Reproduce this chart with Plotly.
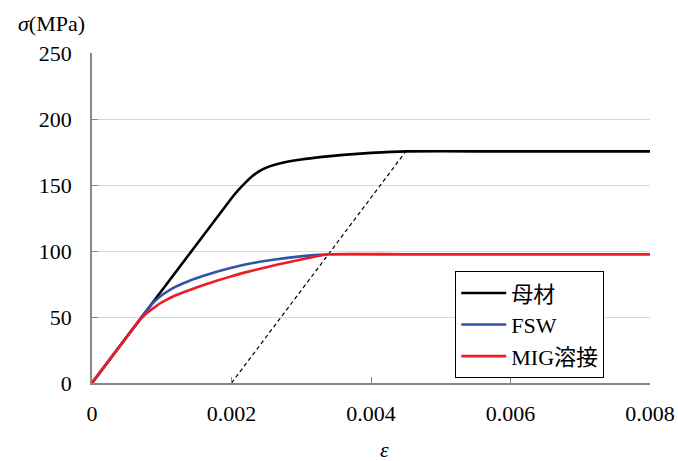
import plotly.graph_objects as go

# Stress-strain curves (strain [-], stress [MPa])
base_eps = [0, 0.0020, 0.0021, 0.0022, 0.0023, 0.0024, 0.0025, 0.0027, 0.0030,
            0.0033, 0.0036, 0.0040, 0.0045, 0.0055, 0.0080]
base_sig = [0, 140, 146.3, 151.8, 156.8, 160.5, 163.2, 166.5, 169.3,
            171.3, 172.8, 174.3, 175.5, 175.5, 175.5]

fsw_eps = [0, 0.0008, 0.0009, 0.0010, 0.0011, 0.0012, 0.0014, 0.0016, 0.0018,
           0.0020, 0.0022, 0.0025, 0.0028, 0.0031, 0.0034, 0.0045, 0.0080]
fsw_sig = [0, 56, 62, 66.5, 70, 73, 77.5, 81.2, 84.5,
           87.3, 89.8, 92.6, 94.8, 96.5, 97.5, 97.5, 97.5]

mig_eps = [0, 0.0006, 0.0007, 0.0008, 0.0009, 0.0010, 0.0012, 0.0014, 0.0016,
           0.0018, 0.0020, 0.0022, 0.0025, 0.0028, 0.0031, 0.0034, 0.0045, 0.0080]
mig_sig = [0, 42, 48.5, 53.5, 57.5, 61, 66.5, 70.5, 74.3,
           77.7, 80.8, 83.8, 87.7, 91.3, 94.7, 97.5, 97.5, 97.5]

# 0.2 % offset line
offset_eps = [0.002, 0.0045]
offset_sig = [0, 175.5]

series_names = ["母材", "FSW", "MIG溶接"]
series_colors = ["#000000", "#3352a8", "#ee1c25"]

x_ticks = [0, 0.002, 0.004, 0.006, 0.008]
x_ticktext = ["0", "0.002", "0.004", "0.006", "0.008"]
y_ticks = [0, 50, 100, 150, 200, 250]

FONT = "'Liberation Serif', 'Noto Sans CJK JP', serif"

fig = go.Figure()

fig.add_trace(go.Scatter(x=offset_eps, y=offset_sig, mode="lines",
                         line=dict(color="black", width=1.2, dash="4px,3px"),
                         showlegend=False, hoverinfo="skip"))

for i, (xs, ys) in enumerate([(base_eps, base_sig), (fsw_eps, fsw_sig), (mig_eps, mig_sig)]):
    fig.add_trace(go.Scatter(x=xs, y=ys, mode="lines", name=series_names[i],
                             legendgroup=series_names[i],
                             line=dict(color=series_colors[i], width=2.6,
                                       shape="spline", smoothing=0.5)))

axis_gray = "#878787"

fig.update_layout(
    width=678, height=461,
    margin=dict(l=92, r=28, t=53, b=78, autoexpand=False),
    paper_bgcolor="white", plot_bgcolor="white",
    font=dict(family=FONT, size=22, color="black"),
    showlegend=True,
    legend=dict(x=0.651, y=0.339, xanchor="left", yanchor="top",
                bgcolor="white", bordercolor="black", borderwidth=1,
                font=dict(family=FONT, size=22),
                traceorder="grouped", tracegroupgap=0,
                itemwidth=45),
    xaxis=dict(range=[0, 0.008], tickvals=x_ticks, ticktext=x_ticktext,
               showgrid=False, zeroline=False, automargin=False,
               showline=True, linecolor=axis_gray, linewidth=1.5,
               ticks="inside", ticklen=6, tickcolor=axis_gray, tickwidth=1.2,
               ticklabelstandoff=10),
    yaxis=dict(range=[0, 250], tickvals=y_ticks, automargin=False,
               showgrid=True, gridcolor="#d9d9d9", gridwidth=1,
               zeroline=False,
               showline=True, linecolor=axis_gray, linewidth=1.5,
               ticks="inside", ticklen=6, tickcolor=axis_gray, tickwidth=1.2,
               ticklabelstandoff=14),
    annotations=[
        dict(text="<i>σ</i>(MPa)", xref="paper", yref="paper",
             x=-0.072, y=1.09, xanchor="center", yanchor="middle",
             showarrow=False, font=dict(family=FONT, size=22)),
        dict(text="<i>ε</i>", xref="paper", yref="paper",
             x=0.525, y=-0.2, xanchor="center", yanchor="middle",
             showarrow=False, font=dict(family=FONT, size=22)),
    ],
)

fig.write_html("out.html")
